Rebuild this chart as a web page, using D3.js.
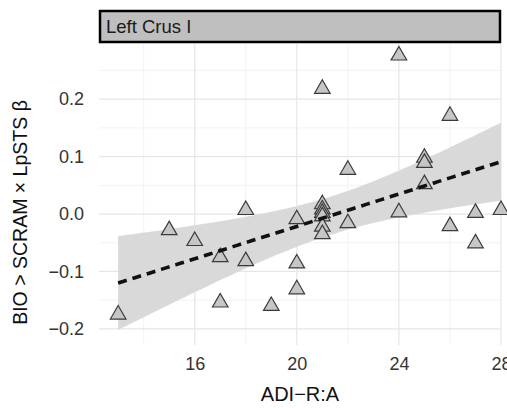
<!DOCTYPE html>
<html><head><meta charset="utf-8">
<script src="https://cdn.jsdelivr.net/npm/d3@7"></script>
<style>body{margin:0;background:#fff}svg{display:block}text{font-family:"Liberation Sans",Arial,sans-serif}</style>
</head><body><svg id="c" width="507" height="408"></svg>
<script>
const panelTitle = "Left Crus I";
const xTitle = "ADI\u2212R:A";
const yTitle = "BIO > SCRAM \u00d7 LpSTS \u03b2";
const xTicks = [16, 20, 24, 28];
const xMinor = [14, 18, 22, 26];
const yTicks = [-0.2, -0.1, 0.0, 0.1, 0.2];
const yTickLabels = ["\u22120.2", "\u22120.1", "0.0", "0.1", "0.2"];
const yMinor = [-0.15, -0.05, 0.05, 0.15, 0.25];
const adiR = [13, 15, 16, 17, 17, 18, 18, 19, 20, 20, 20, 21, 21, 21, 21, 21, 21, 21, 22, 22, 24, 24, 25, 25, 25, 26, 26, 27, 27, 28];
const beta = [-0.175, -0.028, -0.047, -0.075, -0.154, 0.007, -0.082, -0.160, -0.009, -0.131, -0.086, 0.017, 0.008, 0.002, -0.004, -0.022, -0.035, 0.218, 0.077, -0.016, 0.003, 0.276, 0.098, 0.089, 0.052, 0.171, -0.021, 0.002, -0.051, 0.007];

const W = 507, H = 408;
const m = {left: 99, right: 501, top: 44, bottom: 345};
const svg = d3.select("#c");
const x = d3.scaleLinear().domain([12.25, 28]).range([m.left, m.right]);
const y = d3.scaleLinear().domain([-0.228, 0.296]).range([m.bottom, m.top]);

// linear fit with 95% CI
const n = adiR.length;
const xbar = d3.mean(adiR), ybar = d3.mean(beta);
let sxx = 0, sxy = 0;
for (let i = 0; i < n; i++) { sxx += (adiR[i]-xbar)**2; sxy += (adiR[i]-xbar)*(beta[i]-ybar); }
const b1 = sxy / sxx, b0 = ybar - b1 * xbar;
let sse = 0;
for (let i = 0; i < n; i++) { sse += (beta[i] - b0 - b1*adiR[i])**2; }
const s = Math.sqrt(sse / (n - 2));
const tq = 2.048;
const [xlo, xhi] = d3.extent(adiR);
const fit = d3.range(0, 81).map(k => {
  const xv = xlo + (xhi - xlo) * k / 80;
  const yh = b0 + b1 * xv;
  const se = s * Math.sqrt(1/n + (xv - xbar)**2 / sxx);
  return {x: xv, y: yh, lo: yh - tq*se, hi: yh + tq*se};
});

// grid
const g = svg.append("g");
g.selectAll(".xm").data(xMinor).join("line").attr("x1", d=>x(d)).attr("x2", d=>x(d)).attr("y1", m.top).attr("y2", m.bottom).attr("stroke", "#f2f2f2").attr("stroke-width", 1);
g.selectAll(".ym").data(yMinor).join("line").attr("y1", d=>y(d)).attr("y2", d=>y(d)).attr("x1", m.left).attr("x2", m.right).attr("stroke", "#f2f2f2").attr("stroke-width", 1);
g.selectAll(".xM").data(xTicks).join("line").attr("x1", d=>x(d)).attr("x2", d=>x(d)).attr("y1", m.top).attr("y2", m.bottom).attr("stroke", "#e6e6e6").attr("stroke-width", 1.2);
g.selectAll(".yM").data(yTicks).join("line").attr("y1", d=>y(d)).attr("y2", d=>y(d)).attr("x1", m.left).attr("x2", m.right).attr("stroke", "#e6e6e6").attr("stroke-width", 1.2);

// ribbon
svg.append("path").datum(fit).attr("fill", "#d9d9d9")
  .attr("d", d3.area().x(d=>x(d.x)).y0(d=>y(d.lo)).y1(d=>y(d.hi)));

// points
const tri = d3.symbol().type(d3.symbolTriangle).size(105);
svg.append("g").selectAll("path").data(adiR.map((v,i)=>[v, beta[i]])).join("path")
  .attr("d", tri).attr("transform", d=>`translate(${x(d[0])},${y(d[1])})`)
  .attr("fill", "#c6c6c6").attr("stroke", "#3a3a3a").attr("stroke-width", 1.2);

// fit line
svg.append("path").datum(fit).attr("fill", "none").attr("stroke", "#111").attr("stroke-width", 3.6)
  .attr("stroke-dasharray", "9,6")
  .attr("d", d3.line().x(d=>x(d.x)).y(d=>y(d.y)));

// strip
svg.append("rect").attr("x", m.left+1).attr("y", 11).attr("width", m.right-m.left-2).attr("height", 31)
  .attr("fill", "#bfbfbf").attr("stroke", "#000").attr("stroke-width", 2.5);
svg.append("text").attr("x", m.left+7).attr("y", 33).attr("font-size", 18.5).attr("fill", "#1a1a1a").text(panelTitle);

// axes
const xa = svg.append("g").attr("transform", `translate(0,${m.bottom})`)
  .call(d3.axisBottom(x).tickValues(xTicks).tickSize(0).tickPadding(12).tickFormat(d3.format("d")));
xa.select(".domain").remove();
xa.selectAll("text").attr("font-size", 18).attr("fill", "#333").style("font-family", '"Liberation Sans",Arial,sans-serif');
const ya = svg.append("g").attr("transform", `translate(${m.left},0)`)
  .call(d3.axisLeft(y).tickValues(yTicks).tickSize(0).tickPadding(15).tickFormat((d,i)=>yTickLabels[i]));
ya.select(".domain").remove();
ya.selectAll("text").attr("font-size", 18).attr("fill", "#333").style("font-family", '"Liberation Sans",Arial,sans-serif');

svg.append("text").attr("x", (m.left+m.right)/2).attr("y", 401).attr("text-anchor", "middle").attr("font-size", 20).attr("fill", "#111").text(xTitle);
svg.append("text").attr("transform", `translate(27,${(m.top+m.bottom)/2+18}) rotate(-90)`).attr("text-anchor", "middle").attr("font-size", 19.5).attr("fill", "#111").text(yTitle);
</script></body></html>
